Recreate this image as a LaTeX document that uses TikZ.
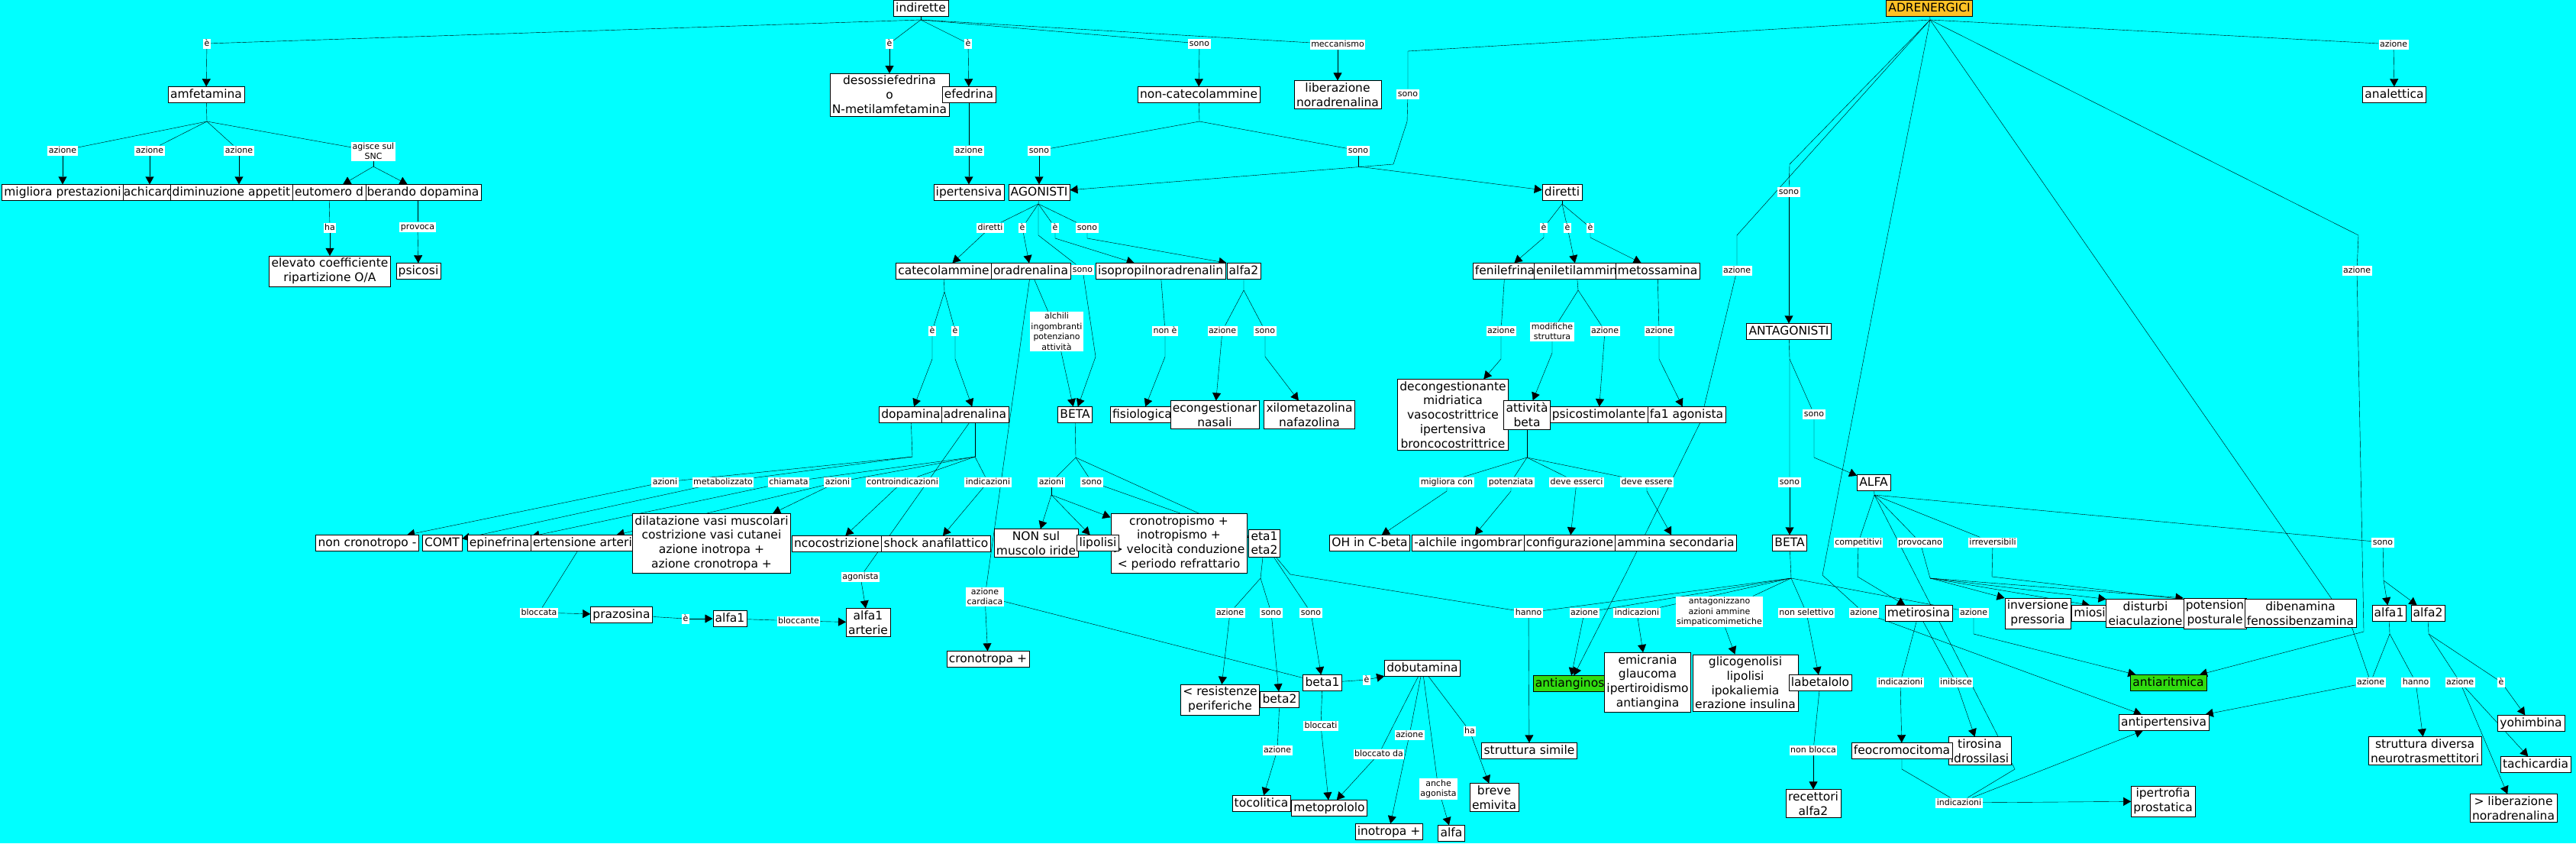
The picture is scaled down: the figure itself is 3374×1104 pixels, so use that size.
\documentclass[tikz,border=0pt]{standalone}
\usepackage{fontspec}
\setmainfont{DejaVu Sans}
\usepackage{tikz}
\usetikzlibrary{arrows.meta}
\definecolor{cmapbg}{RGB}{0,255,255}
\definecolor{adrorange}{RGB}{255,193,37}
\definecolor{cmapgreen}{RGB}{48,220,16}
\pgfdeclarelayer{bg}
\pgfdeclarelayer{edges}
\pgfsetlayers{bg,edges,main}
\begin{document}
\begin{tikzpicture}[x=1pt, y=-1pt, line width=0.9pt,
		>={Triangle[length=10pt,width=11pt]},   % Pfeilspitzen wie in CmapTools
		concept/.style={draw, fill=white, inner xsep=3pt, inner ysep=3pt, text height=11.5pt, text depth=3.5pt, font=\fontsize{15.5}{18.8}\selectfont},
		conceptm/.style={draw, fill=white, inner sep=3pt, align=center, font=\fontsize{15.5}{18.8}\selectfont},
		lnk/.style={fill=white, inner xsep=1.5pt, inner ysep=1pt, text height=8.5pt, text depth=2.5pt, font=\fontsize{11}{13.5}\selectfont},
		lnkm/.style={fill=white, inner sep=1.5pt, align=center, font=\fontsize{11}{13.5}\selectfont}]
	\useasboundingbox (0,0) rectangle (3374,1104);
	\begin{pgfonlayer}{bg}
		\fill[cmapbg] (0,0) rectangle (3374,1104);
	\end{pgfonlayer}
	% concetti in alto
	\node[concept] (indir) at (1206,11) {indirette};
	\node[concept, fill=adrorange] (adren) at (2527,11) {ADRENERGICI};
	\node[concept] (amfet) at (270,124) {amfetamina};
	\node[conceptm] (desoss) at (1165,124) {desossiefedrina\\o\\N-metilamfetamina};
	\node[concept] (efedr) at (1269,124) {efedrina};
	\node[concept] (noncat) at (1570,124) {non-catecolammine};
	\node[conceptm] (libnor) at (1752,124) {liberazione\\noradrenalina};
	\node[concept] (analet) at (3136,124) {analettica};
	% amfetamina
	\node[concept] (tachi) at (195,252) {achicard};
	\node[concept] (migl) at (82,252) {migliora prestazioni};
	\node[concept] (dimin) at (303,252) {diminuzione appetit};
	\node[concept] (libdop) at (554,252) {berando dopamina};
	\node[concept] (eutom) at (431,252) {eutomero d};
	\node[conceptm] (elev) at (432,355) {elevato coefficiente\\ripartizione O/A};
	\node[concept] (psic) at (548,355) {psicosi};
	% agonisti
	\node[concept] (ipert) at (1269,252) {ipertensiva};
	\node[concept] (agon) at (1361,252) {AGONISTI};
	\node[concept] (dirett) at (2046,252) {diretti};
	\node[concept] (catec) at (1236,355) {catecolammine};
	\node[concept] (noradr) at (1350,355) {oradrenalina};
	\node[concept] (isopr) at (1520,355) {isopropilnoradrenalin};
	\node[concept] (alfaii) at (1629,355) {alfa2};
	\node[concept] (fenil) at (1971,355) {fenilefrina};
	\node[concept] (fenet) at (2065,355) {eniletilammin};
	\node[concept] (metox) at (2171,355) {metossamina};
	\node[concept] (dopa) at (1193,543) {dopamina};
	\node[concept] (adrena) at (1277,543) {adrenalina};
	\node[concept] (betaag) at (1408,543) {BETA};
	\node[concept] (fisio) at (1496,543) {fisiologica};
	\node[conceptm] (decnas) at (1591,543) {econgestionar\\nasali};
	\node[conceptm] (xilom) at (1715,543) {xilometazolina\\nafazolina};
	\node[conceptm] (decong) at (1903,543) {decongestionante\\midriatica\\vasocostrittrice\\ipertensiva\\broncocostrittrice};
	\node[conceptm] (attbeta) at (2000,543) {attività\\beta};
	\node[concept] (psicost) at (2094,543) {psicostimolante};
	\node[concept] (alfaago) at (2209,543) {fa1 agonista};
	\node[concept] (antag) at (2343,434) {ANTAGONISTI};
	% riga centrale
	\node[concept] (noncron) at (481,711) {non cronotropo -};
	\node[concept] (comt) at (579,711) {COMT};
	\node[concept] (epin) at (654,711) {epinefrina};
	\node[concept] (ipart) at (763,711) {ertensione arteri};
	\node[conceptm] (dilat) at (932,711) {dilatazione vasi muscolari\\costrizione vasi cutanei\\azione inotropa +\\azione cronotropa +};
	\node[concept] (bronc) at (1096,712) {ncocostrizione};
	\node[concept] (shock) at (1226,712) {shock anafilattico};
	\node[conceptm] (nonsul) at (1357,711) {NON sul\\muscolo iride};
	\node[conceptm] (cronot) at (1544,711) {cronotropismo +\\inotropismo +\\> velocità conduzione\\< periodo refrattario};
	\node[concept] (lipol) at (1438,711) {lipolisi};
	\node[conceptm] (betas) at (1656,711) {eta1\\eta2};
	\node[concept] (ohc) at (1794,711) {OH in C-beta};
	\node[concept] (alchil) at (1923,711) {-alchile ingombrar};
	\node[concept] (config) at (2056,711) {configurazione};
	\node[concept] (ammsec) at (2195,711) {ammina secondaria};
	\node[concept] (betaan) at (2344,711) {BETA};
	\node[concept] (alfaan) at (2454,632) {ALFA};
	% in basso
	\node[concept] (prazos) at (814,805) {prazosina};
	\node[concept] (alfaib) at (956,810) {alfa1};
	\node[conceptm] (alfart) at (1137,815) {alfa1\\arterie};
	\node[concept] (cronop) at (1294,863) {cronotropa +};
	\node[conceptm] (resist) at (1598,916) {< resistenze\\periferiche};
	\node[concept] (betaii) at (1676,916) {beta2};
	\node[concept] (betai) at (1732,894) {beta1};
	\node[concept] (dobut) at (1863,875) {dobutamina};
	\node[concept] (tocol) at (1652,1052) {tocolitica};
	\node[concept] (metop) at (1741,1058) {metoprololo};
	\node[concept] (inotr) at (1819,1089) {inotropa +};
	\node[concept] (alfac) at (1901,1091) {alfa};
	\node[conceptm] (breve) at (1957,1044) {breve\\emivita};
	\node[concept] (strsim) at (2003,983) {struttura simile};
	\node[concept, fill=cmapgreen] (antiang) at (2056,895) {antianginos};
	\node[conceptm] (emicr) at (2158,893) {emicrania\\glaucoma\\ipertiroidismo\\antiangina};
	\node[conceptm] (glicog) at (2286,894) {glicogenolisi\\lipolisi\\ipokaliemia\\erazione insulina};
	\node[concept] (labet) at (2384,894) {labetalolo};
	\node[conceptm] (recett) at (2375,1052) {recettori\\alfa2};
	\node[concept] (metir) at (2513,803) {metirosina};
	\node[conceptm] (tiros) at (2593,983) {tirosina\\idrossilasi};
	\node[concept] (feocr) at (2491,983) {feocromocitoma};
	\node[conceptm] (invers) at (2669,803) {inversione\\pressoria};
	\node[concept] (miosi) at (2737,803) {miosi};
	\node[conceptm] (disturb) at (2810,803) {disturbi\\eiaculazione};
	\node[conceptm] (ipopos) at (2901,803) {potension\\posturale};
	\node[conceptm] (diben) at (3013,803) {dibenamina\\fenossibenzamina};
	\node[concept] (alfaic) at (3129,803) {alfa1};
	\node[concept] (alfaiic) at (3180,803) {alfa2};
	\node[concept, fill=cmapgreen] (antiar) at (2840,894) {antiaritmica};
	\node[concept] (antipe) at (2834,946) {antipertensiva};
	\node[conceptm] (ipertr) at (2833,1049) {ipertrofia\\prostatica};
	\node[conceptm] (strdiv) at (3176,983) {struttura diversa\\neurotrasmettitori};
	\node[concept] (yohim) at (3315,947) {yohimbina};
	\node[concept] (tachic) at (3321,1001) {tachicardia};
	\node[conceptm] (libnor2) at (3292,1058) {> liberazione\\noradrenalina};
	% frasi di collegamento
	\node[lnk] (lE1) at (271,57) {è};
	\node[lnk] (lE2) at (1165,57) {è};
	\node[lnk] (lE3) at (1268,57) {è};
	\node[lnk] (lS1) at (1571,57) {sono};
	\node[lnk] (lMecc) at (1752,58) {meccanismo};
	\node[lnk] (lS2) at (1844,123) {sono};
	\node[lnk] (lAz1) at (3135,58) {azione};
	\node[lnk] (lAmA) at (82,197) {azione};
	\node[lnk] (lAmB) at (196,197) {azione};
	\node[lnk] (lAmC) at (313,197) {azione};
	\node[lnkm] (lSnc) at (489,198) {agisce sul\\SNC};
	\node[lnk] (lHa1) at (432,298) {ha};
	\node[lnk] (lProv) at (547,297) {provoca};
	\node[lnk] (lAzEf) at (1269,197) {azione};
	\node[lnk] (lS3) at (1361,197) {sono};
	\node[lnk] (lS4) at (1779,197) {sono};
	\node[lnk] (lDir) at (1297,298) {diretti};
	\node[lnk] (lE4) at (1339,298) {è};
	\node[lnk] (lE5) at (1382,298) {è};
	\node[lnk] (lS5) at (1424,298) {sono};
	\node[lnk] (lS6) at (1418,353) {sono};
	\node[lnk] (lE6) at (2022,298) {è};
	\node[lnk] (lE7) at (2053,298) {è};
	\node[lnk] (lE8) at (2083,298) {è};
	\node[lnk] (lS7) at (2343,251) {sono};
	\node[lnk] (lAz2) at (2275,354) {azione};
	\node[lnk] (lAz3) at (3087,354) {azione};
	\node[lnk] (lE9) at (1221,433) {è};
	\node[lnk] (lE10) at (1251,433) {è};
	\node[lnkm] (lAlch) at (1384,434) {alchili\\ingombranti\\potenziano\\attività};
	\node[lnk] (lNone) at (1526,433) {non è};
	\node[lnk] (lAz4) at (1601,433) {azione};
	\node[lnk] (lS8) at (1657,433) {sono};
	\node[lnk] (lAz5) at (1966,433) {azione};
	\node[lnkm] (lModif) at (2033,434) {modifiche\\struttura};
	\node[lnk] (lAz6) at (2102,433) {azione};
	\node[lnk] (lAz7) at (2173,433) {azione};
	\node[lnk] (lS9) at (2376,542) {sono};
	\node[lnk] (lS10) at (2344,631) {sono};
	\node[lnk] (lAzD) at (871,631) {azioni};
	\node[lnk] (lMetab) at (947,631) {metabolizzato};
	\node[lnk] (lChiam) at (1033,631) {chiamata};
	\node[lnk] (lAzAd) at (1097,631) {azioni};
	\node[lnk] (lContr) at (1182,631) {controindicazioni};
	\node[lnk] (lIndA) at (1294,631) {indicazioni};
	\node[lnk] (lAzB) at (1377,631) {azioni};
	\node[lnk] (lS11) at (1430,631) {sono};
	\node[lnk] (lMigl) at (1895,631) {migliora con};
	\node[lnk] (lPot) at (1979,631) {potenziata};
	\node[lnk] (lDevi) at (2065,631) {deve esserci};
	\node[lnk] (lDeve) at (2157,631) {deve essere};
	\node[lnk] (lComp) at (2434,710) {competitivi};
	\node[lnk] (lProvo) at (2515,710) {provocano};
	\node[lnk] (lIrr) at (2610,710) {irreversibili};
	\node[lnk] (lS12) at (3121,710) {sono};
	\node[lnk] (lAgon) at (1127,755) {agonista};
	\node[lnkm] (lCard) at (1290,781) {azione\\cardiaca};
	\node[lnk] (lBlocc) at (706,802) {bloccata};
	\node[lnk] (lE11) at (898,810) {è};
	\node[lnk] (lBlcnt) at (1046,813) {bloccante};
	\node[lnk] (lAz8) at (1611,802) {azione};
	\node[lnk] (lS13) at (1665,802) {sono};
	\node[lnk] (lS14) at (1717,802) {sono};
	\node[lnk] (lHanno) at (2002,802) {hanno};
	\node[lnk] (lAz9) at (2075,802) {azione};
	\node[lnk] (lInd) at (2144,802) {indicazioni};
	\node[lnkm] (lAnt) at (2252,801) {antagonizzano\\azioni ammine\\simpaticomimetiche};
	\node[lnk] (lNsel) at (2366,802) {non selettivo};
	\node[lnk] (lAz10) at (2441,802) {azione};
	\node[lnk] (lAz11) at (2585,802) {azione};
	\node[lnk] (lE12) at (1790,890) {è};
	\node[lnk] (lBlcti) at (1730,950) {bloccati};
	\node[lnk] (lHa2) at (1925,957) {ha};
	\node[lnk] (lAz12) at (1846,962) {azione};
	\node[lnk] (lAz13) at (1673,982) {azione};
	\node[lnk] (lBlda) at (1806,987) {bloccato da};
	\node[lnkm] (lAnche) at (1884,1033) {anche\\agonista};
	\node[lnk] (lNbl) at (2375,982) {non blocca};
	\node[lnk] (lInd2) at (2489,893) {indicazioni};
	\node[lnk] (lInib) at (2562,893) {inibisce};
	\node[lnk] (lInd3) at (2566,1051) {indicazioni};
	\node[lnk] (lAz14) at (3105,893) {azione};
	\node[lnk] (lHanno2) at (3164,893) {hanno};
	\node[lnk] (lAz15) at (3222,893) {azione};
	\node[lnk] (lE13) at (3276,893) {è};
	% punti di diramazione
	\coordinate (jInd) at (1206,26);
	\coordinate (jAdr) at (2528,26);
	\coordinate (jAmf) at (271,159);
	\coordinate (jSnc) at (489,218);
	\coordinate (jNc) at (1571,159);
	\coordinate (jS4) at (1779,218);
	\coordinate (jAg) at (1360,267);
	\coordinate (jDir) at (2046,267);
	\coordinate (jCat) at (1237,382);
	\coordinate (jAlfaii) at (1629,380);
	\coordinate (jFen) at (2067,380);
	\coordinate (jAtt) at (2000,599);
	\coordinate (jAnt) at (2344,470);
	\coordinate (jDop) at (1195,598);
	\coordinate (jAdrn) at (1277,598);
	\coordinate (jBeta) at (1409,599);
	\coordinate (jAzB) at (1377,648);
	\coordinate (jBetas) at (1651,757);
	\coordinate (jBan) at (2346,757);
	\coordinate (jAlfa) at (2455,648);
	\coordinate (jComp) at (2433,755);
	\coordinate (jProv) at (2528,757);
	\coordinate (jIrr) at (2609,755);
	\coordinate (jS12) at (3122,760);
	\coordinate (jA1) at (3130,830);
	\coordinate (jA2) at (3181,830);
	% collegamenti
	\begin{pgfonlayer}{edges}
		% indirette
		\draw (indir) -- (jInd);
		\foreach \lk in {lE1,lE2,lE3,lS1,lMecc} \draw (jInd) -- (\lk);
		\draw[->] (lE1) -- (amfet);
		\draw[->] (lE2) -- (desoss);
		\draw[->] (lE3) -- (efedr);
		\draw[->] (lS1) -- (noncat);
		\draw[->] (lMecc) -- (libnor);
		% amfetamina
		\draw (amfet) -- (jAmf);
		\foreach \lk in {lAmA,lAmB,lAmC,lSnc} \draw (jAmf) -- (\lk);
		\draw[->] (lAmA) -- (migl);
		\draw[->] (lAmB) -- (lAmB |- tachi.north);
		\draw[->] (lAmC) -- (lAmC |- dimin.north);
		\draw (lSnc) -- (jSnc);
		\draw[->] (jSnc) -- (eutom);
		\draw[->] (jSnc) -- (libdop);
		\draw (eutom) -- (lHa1);
		\draw[->] (lHa1) -- (elev);
		\draw (lProv |- libdop.south) -- (lProv);
		\draw[->] (lProv) -- (psic);
		% efedrina, non-catecolammine
		\draw (efedr) -- (lAzEf);
		\draw[->] (lAzEf) -- (ipert);
		\draw (noncat) -- (jNc) -- (lS3);
		\draw (jNc) -- (lS4);
		\draw[->] (lS3) -- (agon);
		\draw (lS4) -- (jS4);
		\draw[->] (jS4) -- (dirett);
		% ADRENERGICI
		\draw (adren) -- (jAdr);
		\draw (jAdr) -- (1844,67) -- (lS2);
		\draw[->] (lS2) -- (1843,159) -- (1825,215) -- (agon);
		\draw (jAdr) -- (2344,215) -- (lS7);
		\draw[->] (lS7) -- (antag);
		\draw (jAdr) -- (2275,308) -- (lAz2);
		\draw[->] (lAz2) -- (2227,553) -- (2130,750) -- (antiang);
		\draw (jAdr) -- (2460,370) -- (2387,753) -- (lAz10);
		\draw (jAdr) -- (3081,823) -- (lAz14);
		\draw (jAdr) -- (3089,308) -- (lAz3);
		\draw[->] (lAz3) -- (3096,827) -- (antiar);
		\draw (jAdr) -- (lAz1);
		\draw[->] (lAz1) -- (analet);
		% AGONISTI
		\draw (agon) -- (jAg);
		\foreach \lk in {lDir,lE4,lE5,lS5} \draw (jAg) -- (\lk);
		\draw (jAg) -- (1360,308) -- (lS6);
		\draw[->] (lDir) -- (catec);
		\draw[->] (lE4) -- (noradr);
		\draw[->] (lE5) -- ++(0,14) -- (isopr);
		\draw[->] (lS5) -- ++(0,14) -- (alfaii.north west);
		\draw[->] (lS6) -- (1435,467) -- (betaag);
		% diretti
		\draw (dirett) -- (jDir);
		\foreach \lk in {lE6,lE7,lE8} \draw (jDir) -- (\lk);
		\draw[->] (lE6) -- ++(0,13) -- (fenil);
		\draw[->] (lE7) -- (fenet);
		\draw[->] (lE8) -- ++(0,13) -- (metox);
		% catecolammine, noradrenalina
		\draw (catec) -- (jCat) -- (lE9);
		\draw (jCat) -- (lE10);
		\draw[->] (lE9) -- ++(0,37) -- (dopa);
		\draw[->] (lE10) -- ++(0,37) -- (adrena);
		\draw (noradr) -- (lAlch);
		\draw[->] (lAlch) -- (betaag);
		\draw (noradr) -- (lCard);
		\draw (betai) -- (lCard);
		\draw[->] (lCard) -- (cronop);
		% isopropilnoradrenalina, alfa2
		\draw (isopr) -- (lNone);
		\draw[->] (lNone) -- ++(0,34) -- (fisio);
		\draw (alfaii) -- (jAlfaii) -- (lAz4);
		\draw (jAlfaii) -- (lS8);
		\draw[->] (lAz4) -- (decnas);
		\draw[->] (lS8) -- ++(0,34) -- (xilom);
		% fenilefrina, feniletilammina, metossamina
		\draw (fenil) -- (lAz5);
		\draw[->] (lAz5) -- ++(0,37) -- (decong);
		\draw (fenet) -- (jFen) -- (lModif);
		\draw (jFen) -- (lAz6);
		\draw[->] (lModif) -- ++(0,28) -- (attbeta);
		\draw[->] (lAz6) -- (psicost);
		\draw (metox) -- (lAz7);
		\draw[->] (lAz7) -- ++(0,37) -- (alfaago);
		% attivita beta
		\draw (attbeta) -- (jAtt);
		\foreach \lk in {lMigl,lPot,lDevi,lDeve} \draw (jAtt) -- (\lk);
		\draw[->] (lMigl) -- ++(0,12) -- (ohc);
		\draw[->] (lPot) -- ++(0,12) -- (alchil);
		\draw[->] (lDevi) -- (config);
		\draw[->] (lDeve) -- ++(0,12) -- (ammsec);
		% ANTAGONISTI
		\draw (antag) -- (jAnt) -- (lS10);
		\draw (jAnt) -- (lS9);
		\draw[->] (lS10) -- (betaan);
		\draw[->] (lS9) -- ++(0,57) -- (alfaan);
		% dopamina, adrenalina
		\draw (dopa) -- (jDop) -- (lAzD);
		\draw (jDop) -- (lMetab);
		\draw[->] (lAzD) -- (noncron);
		\draw[->] (lMetab) -- (comt);
		\draw (adrena) -- (jAdrn);
		\foreach \lk in {lChiam,lAzAd,lContr,lIndA} \draw (jAdrn) -- (\lk);
		\draw[->] (lChiam) -- (epin);
		\draw[->] (lAzAd) -- (dilat);
		\draw[->] (lAzAd) -- (ipart);
		\draw[->] (lContr) -- (bronc);
		\draw[->] (lIndA) -- (shock);
		\draw (adrena) -- (lAgon);
		\draw[->] (lAgon) -- (alfart);
		\draw (ipart) -- (lBlocc);
		\draw[->] (lBlocc) -- (prazos);
		\draw (prazos) -- (lE11);
		\draw[->] (lE11) -- (alfaib);
		\draw (alfaib) -- (lBlcnt);
		\draw[->] (lBlcnt) -- (alfart);
		% BETA agonisti
		\draw (betaag) -- (jBeta) -- (lAzB);
		\draw (jBeta) -- (lS11);
		\draw (jBeta) -- (betas);
		\draw (lAzB) -- (jAzB);
		\draw[->] (jAzB) -- (nonsul);
		\draw[->] (jAzB) -- (lipol);
		\draw[->] (jAzB) -- (cronot);
		\draw[->] (lS11) -- (betas);
		\draw (betas) -- (jBetas) -- (lAz8);
		\draw (jBetas) -- (lS13);
		\draw (betas) -- (lS14);
		\draw (betas) -- (1690,752) -- (lHanno);
		\draw[->] (lAz8) -- (resist);
		\draw[->] (lS13) -- (betaii);
		\draw[->] (lS14) -- (betai);
		\draw (betaii) -- (lAz13);
		\draw[->] (lAz13) -- (tocol);
		\draw (betai) -- (lE12);
		\draw[->] (lE12) -- (dobut);
		\draw (betai) -- (lBlcti);
		\draw[->] (lBlcti) -- (metop);
		% dobutamina
		\draw (dobut) -- (lBlda);
		\draw[->] (lBlda) -- (metop);
		\draw (dobut) -- (lAz12);
		\draw[->] (lAz12) -- (inotr);
		\draw (dobut) -- (lAnche);
		\draw[->] (lAnche) -- (alfac);
		\draw (dobut) -- (lHa2);
		\draw[->] (lHa2) -- (breve);
		\draw[->] (lHanno) -- (strsim);
		% BETA antagonisti
		\draw (betaan) -- (jBan);
		\foreach \lk in {lHanno,lAz9,lInd,lAnt,lNsel,lAz11} \draw (jBan) -- (\lk);
		\draw[->] (lAz9) -- (antiang);
		\draw[->] (lInd) -- (emicr);
		\draw[->] (lAnt) -- (glicog);
		\draw[->] (lNsel) -- (labet);
		\draw (labet) -- (lNbl);
		\draw[->] (lNbl) -- (recett);
		\draw[->] (lAz11) -- ++(0,28) -- (antiar);
		\draw[->] (lAz10) -- (antipe);
		% ALFA
		\draw (alfaan) -- (jAlfa);
		\foreach \lk in {lComp,lProvo,lIrr,lS12} \draw (jAlfa) -- (\lk);
		\draw (jAlfa) -- (2639,1007) -- (lInd3);
		\draw (lComp) -- (jComp);
		\draw[->] (jComp) -- (metir);
		\draw (lProvo) -- (jProv);
		\draw[->] (jProv) -- (invers.north west);
		\draw[->] (jProv) -- (miosi.north);
		\draw[->] (jProv) -- (disturb.north west);
		\draw[->] (jProv) -- (ipopos.north west);
		\draw (lIrr) -- (jIrr);
		\draw[->] (jIrr) -- (diben);
		\draw (lS12) -- (jS12);
		\draw[->] (jS12) -- (alfaic);
		\draw[->] (jS12) -- (alfaiic);
		\draw[->] (lInd3) -- (ipertr);
		\draw[->] (lInd3) -- (antipe);
		\draw (feocr) -- ++(0,24) -- (lInd3);
		% metirosina
		\draw (metir) -- (lInd2);
		\draw[->] (lInd2) -- (feocr);
		\draw (metir) -- (lInib);
		\draw[->] (lInib) -- (tiros);
		% alfa1, alfa2
		\draw (alfaic) -- (jA1) -- (lAz14);
		\draw (jA1) -- (lHanno2);
		\draw[->] (lAz14) -- (antipe);
		\draw[->] (lHanno2) -- (strdiv);
		\draw (alfaiic) -- (jA2) -- (lAz15);
		\draw (jA2) -- (lE13);
		\draw[->] (lAz15) -- (libnor2);
		\draw[->] (lAz15) -- (tachic);
		\draw[->] (lE13) -- (yohim);
	\end{pgfonlayer}
\end{tikzpicture}
\end{document}
